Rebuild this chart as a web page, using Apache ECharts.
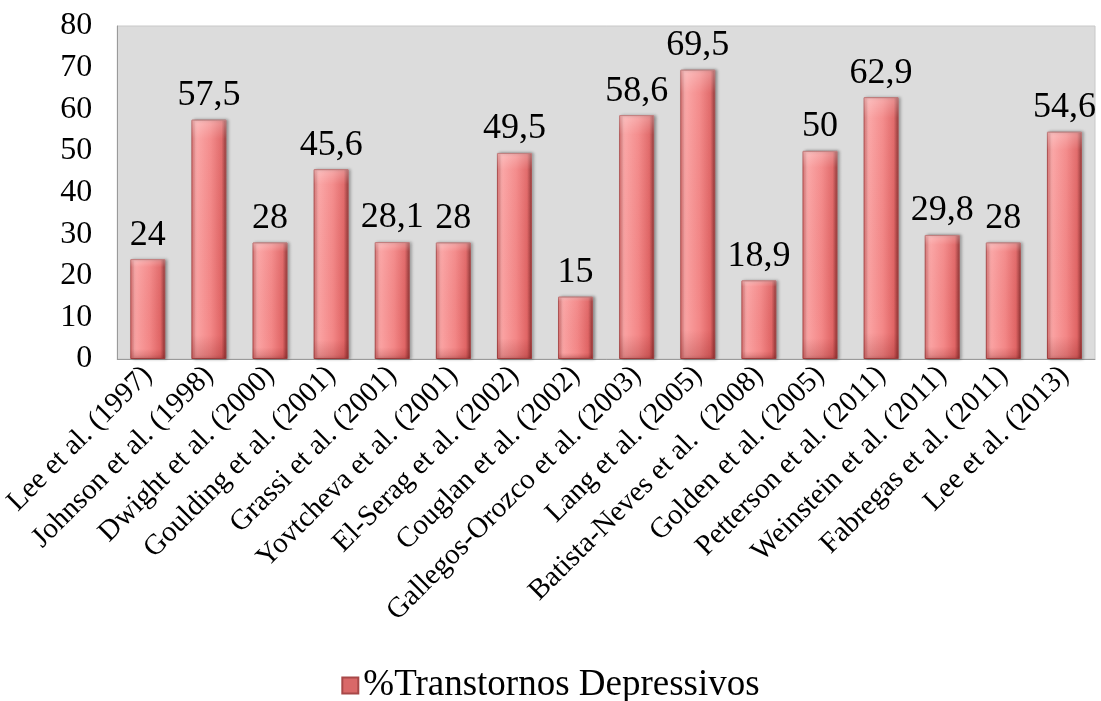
<!DOCTYPE html>
<html>
<head>
<meta charset="utf-8">
<script src="https://cdn.jsdelivr.net/npm/echarts@6/dist/echarts.min.js"></script>
<style>
  html, body { margin: 0; padding: 0; background: #ffffff; }
  #chart { width: 1101px; height: 701px; }
</style>
</head>
<body>
<div id="chart"></div>
<script>
// Studies and prevalence of depressive disorders (%)
const studies = [
  'Lee et al. (1997)', 'Johnson et al. (1998)', 'Dwight et al. (2000)',
  'Goulding et al. (2001)', 'Grassi et al. (2001)', 'Yovtcheva et al. (2001)',
  'El-Serag et al. (2002)', 'Couglan et al. (2002)', 'Gallegos-Orozco et al. (2003)',
  'Lang et al. (2005)', 'Batista-Neves et al.  (2008)', 'Golden et al. (2005)',
  'Petterson et al. (2011)', 'Weinstein et al. (2011)', 'Fabregas et al. (2011)',
  'Lee et al. (2013)'
];
const depressivePct = [24, 57.5, 28, 45.6, 28.1, 28, 49.5, 15, 58.6, 69.5, 18.9, 50, 62.9, 29.8, 28, 54.6];
const seriesName = '%Transtornos Depressivos';
const yTicks = { min: 0, max: 80, interval: 10 };

const serif = 'Liberation Serif, serif';
const barFill = {
  type: 'linear', x: 0, y: 0, x2: 1, y2: 0,
  colorStops: [
    { offset: 0, color: '#e87575' },
    { offset: 0.12, color: '#fba5a5' },
    { offset: 0.55, color: '#f38787' },
    { offset: 0.86, color: '#e06565' },
    { offset: 1, color: '#8a3030' }
  ]
};
const barTopShade = {
  type: 'linear', x: 0, y: 0, x2: 0, y2: 1,
  colorStops: [
    { offset: 0, color: 'rgba(255,255,255,0.3)' },
    { offset: 0.08, color: 'rgba(255,255,255,0.05)' },
    { offset: 0.9, color: 'rgba(120,20,20,0.0)' },
    { offset: 1, color: 'rgba(120,20,20,0.25)' }
  ]
};
const legendText = { fontFamily: serif, fontSize: 37, color: '#000' };

const chart = echarts.init(document.getElementById('chart'), null, { renderer: 'canvas' });
chart.setOption({
  animation: false,
  backgroundColor: '#ffffff',
  textStyle: { fontFamily: serif },
  grid: {
    left: 115, right: 6, top: 26, bottom: 342,
    show: true, backgroundColor: '#dcdcdc', borderColor: '#c8c8c8', borderWidth: 1
  },
  legend: {
    bottom: -8,
    left: 'center',
    icon: 'rect',
    itemWidth: 16,
    itemHeight: 16,
    itemGap: 6,
    textStyle: legendText,
    data: [{ name: seriesName, itemStyle: { color: '#d96868' }, textStyle: legendText }]
  },
  xAxis: {
    type: 'category',
    data: studies,
    axisLine: { show: true, lineStyle: { color: '#9a9a9a', width: 1 } },
    axisTick: { show: false },
    axisLabel: {
      rotate: 45, interval: 0, margin: 12,
      fontFamily: serif, fontSize: 29, color: '#000'
    }
  },
  yAxis: {
    type: 'value',
    min: yTicks.min, max: yTicks.max, interval: yTicks.interval,
    splitLine: { show: false },
    axisLine: { show: true, lineStyle: { color: '#9a9a9a', width: 1 } },
    axisTick: { show: false },
    axisLabel: { margin: 25, fontFamily: serif, fontSize: 32, color: '#000' }
  },
  series: [
    {
      name: seriesName,
      type: 'bar',
      data: depressivePct,
      barWidth: 35,
      itemStyle: {
        color: barFill,
        borderColor: '#a84848',
        borderWidth: 1,
        shadowColor: 'rgba(0,0,0,0.35)',
        shadowBlur: 3,
        shadowOffsetX: 2,
        shadowOffsetY: 0
      },
      label: {
        show: true,
        position: 'top',
        distance: 6,
        fontFamily: serif,
        fontSize: 36,
        color: '#000',
        formatter: p => String(p.value).replace('.', ',')
      },
      z: 2
    },
    {
      name: 'shade',
      type: 'bar',
      data: depressivePct,
      barWidth: 35,
      barGap: '-100%',
      silent: true,
      itemStyle: { color: barTopShade },
      z: 3
    }
  ]
});
</script>
</body>
</html>
